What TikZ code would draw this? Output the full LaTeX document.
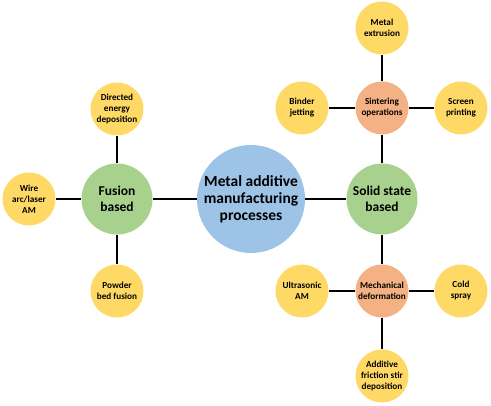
\documentclass[tikz,border=0pt]{standalone}
\usepackage{fontspec}
\setmainfont{Carlito}
\definecolor{amblue}{HTML}{9DC3E6}
\definecolor{amgreen}{HTML}{A9D18E}
\definecolor{amorange}{HTML}{F4B183}
\definecolor{amyellow}{HTML}{FFD966}
\tikzset{
  mainball/.style={circle,fill=amblue,minimum size=108pt,inner sep=0pt,align=center,font=\fontsize{15.5}{17}\selectfont\bfseries},
  groupball/.style={circle,fill=amgreen,minimum size=71pt,inner sep=0pt,align=center,font=\fontsize{13.5}{15.5}\selectfont\bfseries},
  subball/.style={circle,fill=amorange,minimum size=53pt,inner sep=0pt,align=center,font=\fontsize{9.2}{11}\selectfont\bfseries},
  leafball/.style={circle,fill=amyellow,minimum size=53pt,inner sep=0pt,align=center,font=\fontsize{9.2}{11}\selectfont\bfseries},
  link/.style={line width=2.2pt,black}
}
\begin{document}
\begin{tikzpicture}[x=1pt,y=1pt]
		\useasboundingbox (0,0) rectangle (491,406);

		\node[mainball] (metal) at (251,207) {Metal additive\\manufacturing\\processes};

		\node[groupball] (fusion) at (117,207) {Fusion\\based};
		\node[groupball] (solid) at (382,207) {Solid state\\based};

		\node[leafball] (ded) at (117,297) {Directed\\energy\\deposition};
		\node[leafball] (wire) at (29,207) {Wire\\arc/laser\\AM};
		\node[leafball] (powder) at (117,115) {Powder\\bed fusion};

		\node[subball] (sinter) at (382,298) {Sintering\\operations};
		\node[leafball] (extrusion) at (382,378) {Metal\\extrusion};
		\node[leafball] (binder) at (302,298) {Binder\\jetting};
		\node[leafball] (screen) at (461,298) {Screen\\printing};

		\node[subball] (mech) at (382,115) {Mechanical\\deformation};
		\node[leafball] (ultra) at (302,115) {Ultrasonic\\AM};
		\node[leafball] (cold) at (461,115) {Cold\\spray};
		\node[leafball] (afsd) at (382,30) {Additive\\friction stir\\deposition};

		\draw[link] (metal) -- (fusion);
		\draw[link] (metal) -- (solid);

		\draw[link] (fusion) -- (ded);
		\draw[link] (fusion) -- (wire);
		\draw[link] (fusion) -- (powder);

		\draw[link] (solid) -- (sinter);
		\draw[link] (sinter) -- (extrusion);
		\draw[link] (sinter) -- (binder);
		\draw[link] (sinter) -- (screen);

		\draw[link] (solid) -- (mech);
		\draw[link] (mech) -- (ultra);
		\draw[link] (mech) -- (cold);
		\draw[link] (mech) -- (afsd);

\end{tikzpicture}
\end{document}
